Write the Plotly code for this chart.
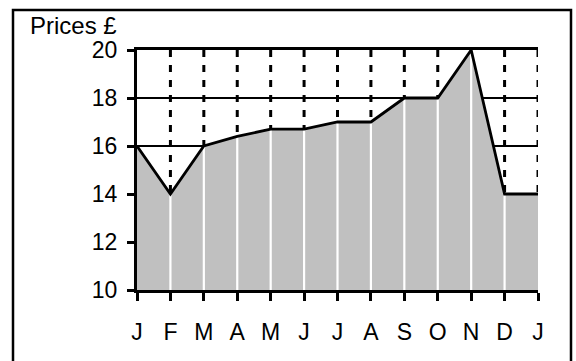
import plotly.graph_objects as go

months = ["J", "F", "M", "A", "M", "J", "J", "A", "S", "O", "N", "D", "J"]
prices = [16, 14, 16, 16.4, 16.7, 16.7, 17, 17, 18, 18, 20, 14, 14]
y_ticks = [10, 12, 14, 16, 18, 20]
y_min, y_max = 10, 20

x = list(range(len(months)))

# plot area in pixels, used to convert pixel positions to paper coords
L, R, T, B = 137, 538, 50, 290
W, H = 576, 361


def px(xp):
    return (xp - L) / (R - L)


def py(yp):
    return (B - yp) / (B - T)


fig = go.Figure()

# grey area under the price line
fig.add_trace(go.Scatter(
    x=x, y=prices, mode="lines", fill="tozeroy",
    fillcolor="#c0c0c0", line=dict(width=0), hoverinfo="skip",
))

# white month separators inside the grey area
sx, sy = [], []
for i in range(1, len(months) - 1):
    sx += [i, i, None]
    sy += [y_min, prices[i], None]
fig.add_trace(go.Scatter(
    x=sx, y=sy, mode="lines", line=dict(color="white", width=2.2),
    hoverinfo="skip",
))

# dotted month lines above the price line (drawn top-down)
dx, dy = [], []
for i in range(1, len(months)):
    if prices[i] < y_max:
        dx += [i, i, None]
        dy += [y_max, prices[i], None]
fig.add_trace(go.Scatter(
    x=dx, y=dy, mode="lines",
    line=dict(color="black", width=3, dash="7px,8px"),
    hoverinfo="skip",
))

# price line
fig.add_trace(go.Scatter(
    x=x, y=prices, mode="lines", line=dict(color="black", width=2.8),
    hoverinfo="skip",
))

font = dict(family="Liberation Sans, Arial, sans-serif", size=23, color="black")
title_font = dict(family="Liberation Sans, Arial, sans-serif", size=24, color="black")

fig.update_layout(
    width=W, height=H,
    margin=dict(l=L, r=W - R, t=T, b=H - B),
    paper_bgcolor="white", plot_bgcolor="white",
    showlegend=False,
    font=font,
    xaxis=dict(
        range=[0, 12], tickmode="array", tickvals=x, ticktext=months,
        showgrid=False, mirror=True,
        showline=True, linecolor="black", linewidth=3,
        ticks="outside", ticklen=8, tickwidth=2.5, tickcolor="black",
        ticklabelstandoff=11, zeroline=False, tickfont=font,
    ),
    yaxis=dict(
        range=[y_min, y_max], tickmode="array", tickvals=y_ticks,
        showgrid=True, gridcolor="black", gridwidth=2.2,
        showline=True, linecolor="black", linewidth=3,
        ticks="outside", ticklen=7, tickwidth=2.5, tickcolor="black",
        ticklabelstandoff=5, zeroline=False, tickfont=font,
    ),
    shapes=[dict(
        type="rect", xref="paper", yref="paper",
        x0=px(13), x1=px(571), y0=py(363), y1=py(10),
        line=dict(color="black", width=2.5), fillcolor="rgba(0,0,0,0)",
        layer="above",
    )],
    annotations=[dict(
        text="Prices £", xref="paper", yref="paper",
        x=px(28), y=py(26), xanchor="left", yanchor="middle",
        showarrow=False, font=title_font,
    )],
)

fig.write_html("out.html")
